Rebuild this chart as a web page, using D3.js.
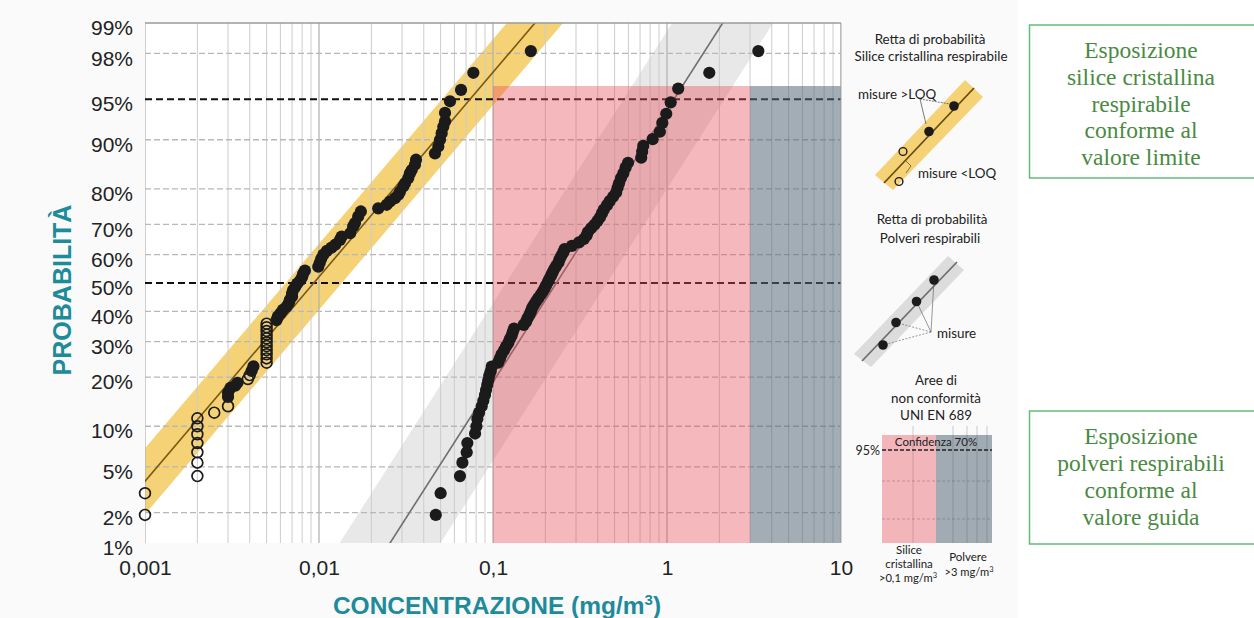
<!DOCTYPE html>
<html><head><meta charset="utf-8">
<script src="https://cdn.jsdelivr.net/npm/d3@7"></script>
<style>
html,body{margin:0;padding:0;background:#fff;}
svg{display:block;}
</style></head>
<body>
<svg id="chart" width="1254" height="618"></svg>
<script>
// ---------- DATA ----------
const xTicks = [0.001, 0.01, 0.1, 1, 10];
const xTickLabels = ["0,001", "0,01", "0,1", "1", "10"];
const yTicks = [1, 2, 5, 10, 20, 30, 40, 50, 60, 70, 80, 90, 95, 98, 99];
const yTickLabels = ["1%", "2%", "5%", "10%", "20%", "30%", "40%", "50%", "60%", "70%", "80%", "90%", "95%", "98%", "99%"];
const yRefLines = [50, 95];

// Silica: measurements below LOQ (open circles) [conc mg/m3, probability %]
const silicaOpenConc = [0.001, 0.001, 0.002, 0.002, 0.002, 0.002, 0.002, 0.002, 0.002, 0.0025, 0.003, 0.0039, 0.0040,
  0.005, 0.005, 0.005, 0.005, 0.005, 0.005, 0.005, 0.005, 0.005, 0.005, 0.005];
const silicaOpenProb = [1.9, 3.0, 4.2, 5.4, 6.5, 7.6, 8.8, 10.0, 11.3, 12.3, 13.5, 19.5, 20.5,
  23.8, 25.0, 26.2, 27.4, 28.6, 29.8, 31.0, 32.2, 33.4, 34.6, 35.8];
// Silica: measurements above LOQ (filled)
const silicaFilledConc = [0.0030, 0.0030, 0.0031, 0.0033, 0.0034, 0.0041, 0.0042,
  0.0057, 0.0058, 0.0060, 0.0062, 0.0065, 0.0067, 0.0068, 0.0070, 0.0070, 0.0071, 0.0073, 0.0075, 0.0078, 0.0080, 0.0081, 0.0083,
  0.0099, 0.0101, 0.0103, 0.0106, 0.0111, 0.0118, 0.0124,
  0.0132, 0.0135, 0.0151, 0.0157, 0.0161, 0.0168, 0.0174,
  0.0219, 0.0245, 0.0256, 0.0273, 0.0286, 0.0292, 0.0305, 0.0312, 0.0326, 0.0333, 0.0341, 0.0356, 0.0361,
  0.0464, 0.0485, 0.0496, 0.0507, 0.0518, 0.0530, 0.0530, 0.0566, 0.0655, 0.0771, 0.165];
const silicaFilledProb = [15.4, 16.3, 17.4, 17.9, 18.6, 21.6, 22.8,
  37.0, 38.2, 39.3, 40.5, 41.6, 42.8, 44.0, 45.2, 46.3, 47.5, 48.6, 49.8, 51.0, 52.1, 53.3, 54.4,
  55.8, 57.2, 58.6, 60.0, 61.3, 62.4, 63.4,
  65.0, 66.1, 67.2, 69.3, 70.4, 72.4, 73.9,
  74.8, 75.8, 76.7, 77.6, 78.5, 79.3, 80.6, 81.4, 82.6, 83.7, 84.4, 85.5, 86.5,
  87.7, 88.9, 90.0, 91.0, 91.9, 92.6, 93.6, 94.8, 95.8, 97.0, 98.1];
// Respirable dust measurements (filled)
const dustConc = [0.0469, 0.050, 0.0646, 0.0667, 0.0706, 0.0712, 0.0789, 0.0803, 0.0813, 0.0832, 0.0861, 0.0880, 0.0899, 0.0912, 0.0927, 0.0940, 0.0952, 0.0970, 0.0983,
  0.107, 0.1096, 0.112, 0.1156, 0.1188, 0.1225, 0.125, 0.128, 0.130, 0.132,
  0.150, 0.155, 0.158, 0.162, 0.165, 0.168, 0.172, 0.177, 0.182, 0.188, 0.193, 0.198, 0.202, 0.207, 0.211, 0.216, 0.220, 0.225, 0.231, 0.238, 0.241, 0.247, 0.253, 0.258,
  0.284, 0.312, 0.333, 0.345, 0.351, 0.366, 0.383, 0.399, 0.412, 0.423, 0.434, 0.452, 0.468, 0.490, 0.510, 0.520, 0.530, 0.544, 0.561, 0.578, 0.597,
  0.711, 0.720, 0.730, 0.827, 0.910, 0.940, 0.990, 1.05, 1.16, 1.75, 3.35];
const dustProb = [1.9, 3.0, 4.2, 5.4, 6.5, 7.6, 8.9, 10.0, 11.2, 12.3, 13.5, 14.6, 15.8, 16.9, 18.1, 19.2, 20.4, 21.5, 22.7,
  23.8, 25.0, 26.2, 27.3, 28.5, 29.6, 30.8, 31.9, 33.1, 34.2,
  35.4, 36.5, 37.7, 38.8, 40.0, 41.2, 42.3, 43.5, 44.6, 45.8, 46.9, 48.1, 49.2, 50.4, 51.5, 52.7, 53.8, 55.0, 56.1, 57.3, 58.4, 59.6, 60.7, 61.9,
  63.0, 64.2, 65.3, 66.5, 67.6, 68.8, 69.9, 71.1, 72.2, 73.4, 74.5, 75.7, 76.8, 78.0, 79.1, 80.3, 81.4, 82.6, 83.7, 84.9, 85.9,
  86.9, 88.0, 89.0, 90.1, 91.2, 92.4, 93.5, 94.7, 95.9, 97.0, 98.1];

// Fitted probability lines: two points each [conc, prob%]
const silicaFitConc = [0.001, 0.1742];
const silicaFitProb = [3.8, 99];
const dustFitConc = [0.0256, 2.09];
const dustFitProb = [1, 99];
const silicaBandFactor = 1.45;   // multiplicative half-width of the confidence band
const dustBandFactor = 1.95;

// Non-conformity areas
const silicaLimit = 0.1, dustLimit = 3, areaTopProb = 96.1;

// ---------- HELPERS ----------
function probit(p){
  const a=[-3.969683028665376e+01,2.209460984245205e+02,-2.759285104469687e+02,1.383577518672690e+02,-3.066479806614716e+01,2.506628277459239e+00];
  const b=[-5.447609879822406e+01,1.615858368580409e+02,-1.556989798598866e+02,6.680131188771972e+01,-1.328068155288572e+01];
  const c=[-7.784894002430293e-03,-3.223964580411365e-01,-2.400758277161838e+00,-2.549732539343734e+00,4.374664141464968e+00,2.938163982698783e+00];
  const d=[7.784695709041462e-03,3.224671290700398e-01,2.445134137142996e+00,3.754408661907416e+00];
  const pl=0.02425, ph=1-pl; let q,r;
  if(p<pl){q=Math.sqrt(-2*Math.log(p));return (((((c[0]*q+c[1])*q+c[2])*q+c[3])*q+c[4])*q+c[5])/((((d[0]*q+d[1])*q+d[2])*q+d[3])*q+1);}
  if(p<=ph){q=p-0.5;r=q*q;return (((((a[0]*r+a[1])*r+a[2])*r+a[3])*r+a[4])*r+a[5])*q/(((((b[0]*r+b[1])*r+b[2])*r+b[3])*r+b[4])*r+1);}
  q=Math.sqrt(-2*Math.log(1-p));return -(((((c[0]*q+c[1])*q+c[2])*q+c[3])*q+c[4])*q+c[5])/((((d[0]*q+d[1])*q+d[2])*q+d[3])*q+1);
}

// ---------- LAYOUT ----------
const L = 145, R = 841, T = 23, B = 543;
const x = d3.scaleLog().domain([0.001, 10]).range([L, R]);
const zScale = d3.scaleLinear().domain([probit(0.01), probit(0.99)]).range([B, T]);
const y = p => zScale(probit(p / 100));

const svg = d3.select("#chart");
svg.append("rect").attr("x",0).attr("y",0).attr("width",1018).attr("height",618).attr("fill","#fafafa");
svg.append("rect").attr("x",1018).attr("y",0).attr("width",236).attr("height",618).attr("fill","#ffffff");

const defs = svg.append("defs");
defs.append("clipPath").attr("id","plotclip").append("rect").attr("x",L).attr("y",T).attr("width",R-L).attr("height",B-T);
const f = defs.append("filter").attr("id","shadow").attr("x","-5%").attr("y","-5%").attr("width","110%").attr("height","110%");
f.append("feDropShadow").attr("dx",-1).attr("dy",2).attr("stdDeviation",1.5).attr("flood-color","#000").attr("flood-opacity",0.35);

svg.append("rect").attr("x",L).attr("y",T).attr("width",R-L).attr("height",B-T).attr("fill","#fff");

const plot = svg.append("g").attr("clip-path","url(#plotclip)");

function bandPolygon(concs, probs, factor){
  const x1 = x(concs[0]), y1 = y(probs[0]), x2 = x(concs[1]), y2 = y(probs[1]);
  const dx = x2 - x1, dy = y2 - y1, len = Math.hypot(dx, dy);
  const ux = dx/len, uy = dy/len, ext = 800;
  const ax = x1 - ux*ext, ay = y1 - uy*ext, bx = x2 + ux*ext, by = y2 + uy*ext;
  const sh = x(concs[0]*factor) - x1;
  return [[ax-sh,ay],[bx-sh,by],[bx+sh,by],[ax+sh,ay]];
}
function extLine(concs, probs){
  const x1 = x(concs[0]), y1 = y(probs[0]), x2 = x(concs[1]), y2 = y(probs[1]);
  const dx = x2 - x1, dy = y2 - y1, len = Math.hypot(dx, dy);
  const ux = dx/len, uy = dy/len, ext = 800;
  return [[x1-ux*ext, y1-uy*ext],[x2+ux*ext, y2+uy*ext]];
}

// Bands
plot.append("polygon").attr("points", bandPolygon(silicaFitConc, silicaFitProb, silicaBandFactor).join(" ")).attr("fill","#f6d277");
plot.append("polygon").attr("points", bandPolygon(dustFitConc, dustFitProb, dustBandFactor).join(" ")).attr("fill","rgba(0,0,0,0.09)");

// Vertical grid
const vgrid = [];
for (let e = -3; e < 1; e++) for (let m = 1; m <= 9; m++) vgrid.push(m * Math.pow(10, e));
vgrid.push(10);
plot.selectAll("line.vg").data(vgrid).enter().append("line")
  .attr("x1", d => x(d)).attr("x2", d => x(d)).attr("y1", T).attr("y2", B)
  .attr("stroke", d => xTicks.includes(d) ? "#b4b4b4" : "#cccccc")
  .attr("stroke-width", d => xTicks.includes(d) ? 1.3 : 1);

// Horizontal grid
const hgrid = yTicks.filter(p => p !== 1 && p !== 99 && !yRefLines.includes(p));
plot.selectAll("line.hg").data(hgrid).enter().append("line")
  .attr("x1", L).attr("x2", R).attr("y1", d => y(d)).attr("y2", d => y(d))
  .attr("stroke", "#b8b8b8").attr("stroke-width", 1.3).attr("stroke-dasharray", "6,3");
plot.selectAll("line.ref").data(yRefLines).enter().append("line")
  .attr("x1", L).attr("x2", R).attr("y1", d => y(d)).attr("y2", d => y(d))
  .attr("stroke", "#111").attr("stroke-width", 2).attr("stroke-dasharray", "7,4");

// Fit lines
plot.append("line").datum(extLine(silicaFitConc, silicaFitProb))
  .attr("x1", d=>d[0][0]).attr("y1", d=>d[0][1]).attr("x2", d=>d[1][0]).attr("y2", d=>d[1][1])
  .attr("stroke","#7a5a12").attr("stroke-width",1.6);
plot.append("line").datum(extLine(dustFitConc, dustFitProb))
  .attr("x1", d=>d[0][0]).attr("y1", d=>d[0][1]).attr("x2", d=>d[1][0]).attr("y2", d=>d[1][1])
  .attr("stroke","#6e6e6e").attr("stroke-width",1.6);

// Non-conformity areas
plot.append("rect").attr("x", x(silicaLimit)).attr("y", y(areaTopProb))
  .attr("width", x(dustLimit) - x(silicaLimit)).attr("height", B - y(areaTopProb))
  .attr("fill", "rgba(228,78,90,0.4)");
plot.append("rect").attr("x", x(dustLimit)).attr("y", y(areaTopProb))
  .attr("width", x(10) - x(dustLimit)).attr("height", B - y(areaTopProb))
  .attr("fill", "rgba(88,106,120,0.55)");

// Frame
svg.append("line").attr("x1",L).attr("x2",R).attr("y1",T).attr("y2",T).attr("stroke","#9a9a9a").attr("stroke-width",1.5);
svg.append("line").attr("x1",R).attr("x2",R).attr("y1",T).attr("y2",B).attr("stroke","#aaaaaa").attr("stroke-width",1);
svg.append("line").attr("x1",L).attr("x2",L).attr("y1",T).attr("y2",B+1).attr("stroke","#8e8e8e").attr("stroke-width",3).attr("filter","url(#shadow)");
svg.append("line").attr("x1",L-1).attr("x2",R).attr("y1",B).attr("y2",B).attr("stroke","#2a2a2a").attr("stroke-width",2.2).attr("filter","url(#shadow)");

// Points
const gpts = svg.append("g");
const dust = dustConc.map((c,i)=>({c, p:dustProb[i]}));
const silF = silicaFilledConc.map((c,i)=>({c, p:silicaFilledProb[i]}));
const silO = silicaOpenConc.map((c,i)=>({c, p:silicaOpenProb[i]}));
gpts.selectAll("circle.d").data(dust).enter().append("circle")
  .attr("cx", d=>x(d.c)).attr("cy", d=>y(d.p)).attr("r", 6.1).attr("fill", "#1b1b1b");
gpts.selectAll("circle.so").data(silO).enter().append("circle")
  .attr("cx", d=>x(d.c)).attr("cy", d=>y(d.p)).attr("r", 5.4).attr("fill", "none")
  .attr("stroke", "#1b1b1b").attr("stroke-width", 1.7);
gpts.selectAll("circle.sf").data(silF).enter().append("circle")
  .attr("cx", d=>x(d.c)).attr("cy", d=>y(d.p)).attr("r", 6.1).attr("fill", "#1b1b1b");

// Axes
const xAxis = d3.axisBottom(x).tickValues(xTicks).tickFormat((d,i)=>xTickLabels[i]).tickSize(0).tickPadding(17);
const gx = svg.append("g").attr("transform", `translate(0,${B})`).call(xAxis);
gx.select(".domain").remove();
gx.selectAll("text").attr("font-family","'Liberation Sans', Arial, sans-serif").attr("font-size",21).attr("fill","#222");

const yAxis = d3.axisLeft(zScale).tickValues(yTicks.map(p=>probit(p/100))).tickFormat((d,i)=>yTickLabels[i]).tickSize(0).tickPadding(12);
const gy = svg.append("g").attr("transform", `translate(${L},0)`).call(yAxis);
gy.select(".domain").remove();
gy.selectAll("text").attr("font-family","'Liberation Sans', Arial, sans-serif").attr("font-size",21).attr("fill","#222").attr("dy","0.56em");

// Axis titles
const teal = "#1e8b9b";
svg.append("text").attr("x", 497).attr("y", 614).attr("text-anchor","middle")
  .attr("font-family","'Liberation Sans', Arial, sans-serif").attr("font-weight","bold").attr("font-size",24.5).attr("fill",teal)
  .html('CONCENTRAZIONE (mg/m<tspan dy="-9" font-size="15">3</tspan><tspan dy="9">)</tspan>');
svg.append("text").attr("transform","translate(71,290) rotate(-90)").attr("text-anchor","middle")
  .attr("font-family","'Liberation Sans', Arial, sans-serif").attr("font-weight","bold").attr("font-size",25).attr("fill",teal)
  .text("PROBABILITÀ");

// ---------- LEGEND ----------
const lg = svg.append("g").attr("font-family","Lato, 'Open Sans', sans-serif").attr("fill","#222");
const lt = (t, xx, yy, size, anchor) => lg.append("text").attr("x",xx).attr("y",yy).attr("text-anchor",anchor||"middle").attr("font-size",size||13.4).text(t);
lt("Retta di probabilità", 930, 44);
lt("Silice cristallina respirabile", 931, 61);
// yellow icon
lg.append("polygon").attr("points","875,175 893,190 983,97 965,80").attr("fill","#f6d277");
lg.append("line").attr("x1",884).attr("y1",183).attr("x2",974).attr("y2",88).attr("stroke","#6b4c10").attr("stroke-width",1.8);
lg.append("line").attr("x1",920).attr("y1",99).attr("x2",926).attr("y2",124).attr("stroke","#444").attr("stroke-width",0.7);
lg.append("line").attr("x1",920).attr("y1",99).attr("x2",950).attr("y2",104).attr("stroke","#444").attr("stroke-width",0.7).attr("stroke-dasharray","2,1");
lg.append("polyline").attr("points","905,160 911,166 906,173").attr("fill","none").attr("stroke","#444").attr("stroke-width",0.7);
[[929,131.5],[954,106]].forEach(p=>lg.append("circle").attr("cx",p[0]).attr("cy",p[1]).attr("r",4.8).attr("fill","#1b1b1b"));
[[903,151.5],[899,181.5]].forEach(p=>lg.append("circle").attr("cx",p[0]).attr("cy",p[1]).attr("r",3.9).attr("fill","none").attr("stroke","#1b1b1b").attr("stroke-width",1.4));
lt("misure >LOQ", 897, 98.5);
lt("misure <LOQ", 957, 177.5);

lt("Retta di probabilità", 932, 224);
lt("Polveri respirabili", 930, 243);
lg.append("polygon").attr("points","854,354 871,367 964,270 948,256").attr("fill","#dcdcdc");
lg.append("line").attr("x1",862).attr("y1",361).attr("x2",957).attr("y2",262).attr("stroke","#6e6e6e").attr("stroke-width",1.8);
[[883,345],[896,322.5],[916.5,301.5],[934,280]].forEach(p=>{
  lg.append("line").attr("x1",931).attr("y1",332).attr("x2",p[0]).attr("y2",p[1]).attr("stroke","#555").attr("stroke-width",0.6).attr("stroke-dasharray", p[1]>310 ? "2,1.5" : null);
});
[[883,345],[896,322.5],[916.5,301.5],[934,280]].forEach(p=>lg.append("circle").attr("cx",p[0]).attr("cy",p[1]).attr("r",4.8).attr("fill","#1b1b1b"));
lt("misure", 937, 337.5, 13.4, "start");

lt("Aree di", 936, 385);
lt("non conformità", 936, 403);
lt("UNI EN 689", 936, 420);
// mini areas box
lg.append("rect").attr("x",882).attr("y",435).attr("width",54).attr("height",108).attr("fill","rgba(228,78,90,0.4)");
lg.append("rect").attr("x",936).attr("y",435).attr("width",56).attr("height",108).attr("fill","rgba(88,106,120,0.55)");
[913].forEach(v=>lg.append("line").attr("x1",v).attr("x2",v).attr("y1",426).attr("y2",543).attr("stroke","rgba(120,90,90,0.35)").attr("stroke-width",0.8));
[953,967,977,987].forEach(v=>lg.append("line").attr("x1",v).attr("x2",v).attr("y1",426).attr("y2",543).attr("stroke","rgba(70,80,90,0.35)").attr("stroke-width",0.8));
[481,519].forEach(v=>lg.append("line").attr("x1",882).attr("x2",992).attr("y1",v).attr("y2",v).attr("stroke","rgba(90,70,70,0.4)").attr("stroke-width",0.8).attr("stroke-dasharray","3,2"));
lg.append("line").attr("x1",882).attr("x2",992).attr("y1",450).attr("y2",450).attr("stroke","#222").attr("stroke-width",1.3).attr("stroke-dasharray","4,2");
lt("95%", 880, 454.5, 12.5, "end");
lt("Confidenza 70%", 936, 446, 11.5);
lt("Silice", 909, 554, 11.5);
lt("cristallina", 909, 568, 11.5);
lg.append("text").attr("x",908).attr("y",582).attr("text-anchor","middle").attr("font-size",11.2).html('&gt;0,1 mg/m<tspan dy="-4" font-size="7.5">3</tspan>');
lt("Polvere", 968, 561, 11.5);
lg.append("text").attr("x",969).attr("y",576).attr("text-anchor","middle").attr("font-size",11.2).html('&gt;3 mg/m<tspan dy="-4" font-size="7.5">3</tspan>');

// ---------- GREEN BOXES ----------
const green = "#4a8a42";
function gbox(y0, h, lines, y1, step){
  svg.append("rect").attr("x",1029.5).attr("y",y0).attr("width",240).attr("height",h)
    .attr("fill","#fff").attr("stroke","#63bd76").attr("stroke-width",1.5);
  lines.forEach((t,i)=>svg.append("text").attr("x",1141).attr("y",y1 + i*step).attr("text-anchor","middle")
    .attr("font-family","'Liberation Serif', 'DejaVu Serif', serif").attr("font-size",23.5).attr("fill",green).text(t));
}
gbox(25, 153, ["Esposizione","silice cristallina","respirabile","conforme al","valore limite"], 58, 26.8);
gbox(411, 133, ["Esposizione","polveri respirabili","conforme al","valore guida"], 444, 27);
</script>
</body></html>
